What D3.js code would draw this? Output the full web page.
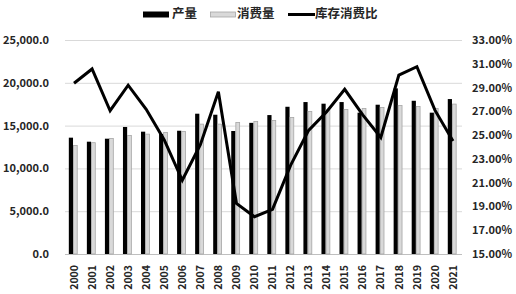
<!DOCTYPE html>
<html>
<head>
<meta charset="utf-8">
<script src="https://cdn.jsdelivr.net/npm/d3@7.9.0/dist/d3.min.js"></script>
<style>
  body { margin: 0; background: #fff; }
  svg text { font-family: "Noto Sans CJK SC", "Noto Sans", sans-serif; font-weight: bold; fill: #262626; }
</style>
</head>
<body>
<div id="chart"></div>
<script>
const years = ['2000','2001','2002','2003','2004','2005','2006','2007','2008','2009','2010',
    '2011','2012','2013','2014','2015','2016','2017','2018','2019','2020','2021'];
const production = [13590, 13120, 13470, 14840, 14290, 14020, 14400, 16390, 16270, 14370, 15320,
    16230, 17200, 17750, 17560, 17750, 16510, 17440, 19350, 17900, 16510, 18100];
const consumption = [12730, 13050, 13550, 13900, 14050, 14250, 14370, 15220, 15220, 15420, 15540,
    15650, 16000, 16700, 16900, 16930, 17050, 17170, 17400, 17290, 17050, 17560];
const stockRatio = [29.36, 30.56, 27.05, 29.2, 27.17, 24.6, 21.2, 24.2, 28.65, 19.26, 18.14,
    18.76, 22.45, 25.4, 26.97, 28.85, 26.7, 24.8, 30.05, 30.75, 27.1, 24.5];
const leftTicks = [0, 5000, 10000, 15000, 20000, 25000];
const rightTicks = [15, 17, 19, 21, 23, 25, 27, 29, 31, 33];

const width = 516, height = 294;
const plot = { left: 65, right: 462, top: 40, bottom: 254 };

const svg = d3.select('#chart')
    .append('svg')
    .attr('width', width)
    .attr('height', height);

const x = d3.scaleBand()
    .domain(years)
    .range([plot.left, plot.right]);

const yLeft = d3.scaleLinear()
    .domain([0, 25000])
    .range([plot.bottom, plot.top]);

const yRight = d3.scaleLinear()
    .domain([15, 33])
    .range([plot.bottom, plot.top]);

// gridlines
svg.append('g')
    .selectAll('line')
    .data(leftTicks)
    .join('line')
    .attr('x1', plot.left)
    .attr('x2', plot.right)
    .attr('y1', d => yLeft(d) + 0.5)
    .attr('y2', d => yLeft(d) + 0.5)
    .attr('stroke', d => d === 0 ? '#bfbfbf' : '#d9d9d9')
    .attr('stroke-width', 1);

// left axis
const leftAxis = svg.append('g')
    .attr('transform', `translate(${plot.left - 13},0)`)
    .call(d3.axisLeft(yLeft).tickValues(leftTicks).tickSize(0).tickFormat(d3.format(',.1f')));
leftAxis.select('.domain').remove();
leftAxis.selectAll('text').attr('font-size', 11).attr('dx', 0);

// right axis
const rightAxis = svg.append('g')
    .attr('transform', `translate(${plot.right + 10},0)`)
    .call(d3.axisRight(yRight).tickValues(rightTicks).tickSize(0).tickFormat(d => d.toFixed(2) + '%'));
rightAxis.select('.domain').remove();
rightAxis.selectAll('text').attr('font-size', 11).attr('x', 0);

// x axis labels
const xAxis = svg.append('g')
    .attr('transform', `translate(0,${plot.bottom + 11})`)
    .call(d3.axisBottom(x).tickSize(0));
xAxis.select('.domain').remove();
xAxis.selectAll('text')
    .attr('font-size', 10.5)
    .attr('transform', 'rotate(-90)')
    .attr('text-anchor', 'end')
    .attr('x', 0)
    .attr('y', 0)
    .attr('dy', '0.35em');

// bars
const barW = 4.2;
svg.append('g')
    .selectAll('rect')
    .data(years)
    .join('rect')
    .attr('x', d => x(d) + x.bandwidth() / 2 - 1 - barW)
    .attr('y', (d, i) => yLeft(production[i]))
    .attr('width', barW)
    .attr('height', (d, i) => yLeft(0) - yLeft(production[i]))
    .attr('fill', '#000');

svg.append('g')
    .selectAll('rect')
    .data(years)
    .join('rect')
    .attr('x', d => x(d) + x.bandwidth() / 2 - 1 + 0.4)
    .attr('y', (d, i) => yLeft(consumption[i]) + 0.4)
    .attr('width', barW - 0.4)
    .attr('height', (d, i) => yLeft(0) - yLeft(consumption[i]) - 0.4)
    .attr('fill', '#d9d9d9')
    .attr('stroke', '#a6a6a6')
    .attr('stroke-width', 0.8);

// ratio line
const line = d3.line()
    .x((d, i) => x(years[i]) + x.bandwidth() / 2)
    .y(d => yRight(d));

svg.append('path')
    .attr('d', line(stockRatio))
    .attr('fill', 'none')
    .attr('stroke', '#000')
    .attr('stroke-width', 3)
    .attr('stroke-linejoin', 'miter');

// legend
const legend = svg.append('g').attr('transform', 'translate(0,14)');
legend.append('rect').attr('x', 143).attr('y', -2.5).attr('width', 26).attr('height', 6).attr('fill', '#000');
legend.append('text').attr('x', 172).attr('y', 0).attr('dy', '0.35em').attr('font-size', 12.5).text('产量');
legend.append('rect').attr('x', 210.5).attr('y', -2).attr('width', 25).attr('height', 5)
    .attr('fill', '#d9d9d9').attr('stroke', '#a6a6a6').attr('stroke-width', 0.8);
legend.append('text').attr('x', 237).attr('y', 0).attr('dy', '0.35em').attr('font-size', 12.5).text('消费量');
legend.append('line').attr('x1', 288).attr('x2', 315).attr('y1', 0.5).attr('y2', 0.5)
    .attr('stroke', '#000').attr('stroke-width', 3);
legend.append('text').attr('x', 315).attr('y', 0).attr('dy', '0.35em').attr('font-size', 12.5).text('库存消费比');
</script>
</body>
</html>
